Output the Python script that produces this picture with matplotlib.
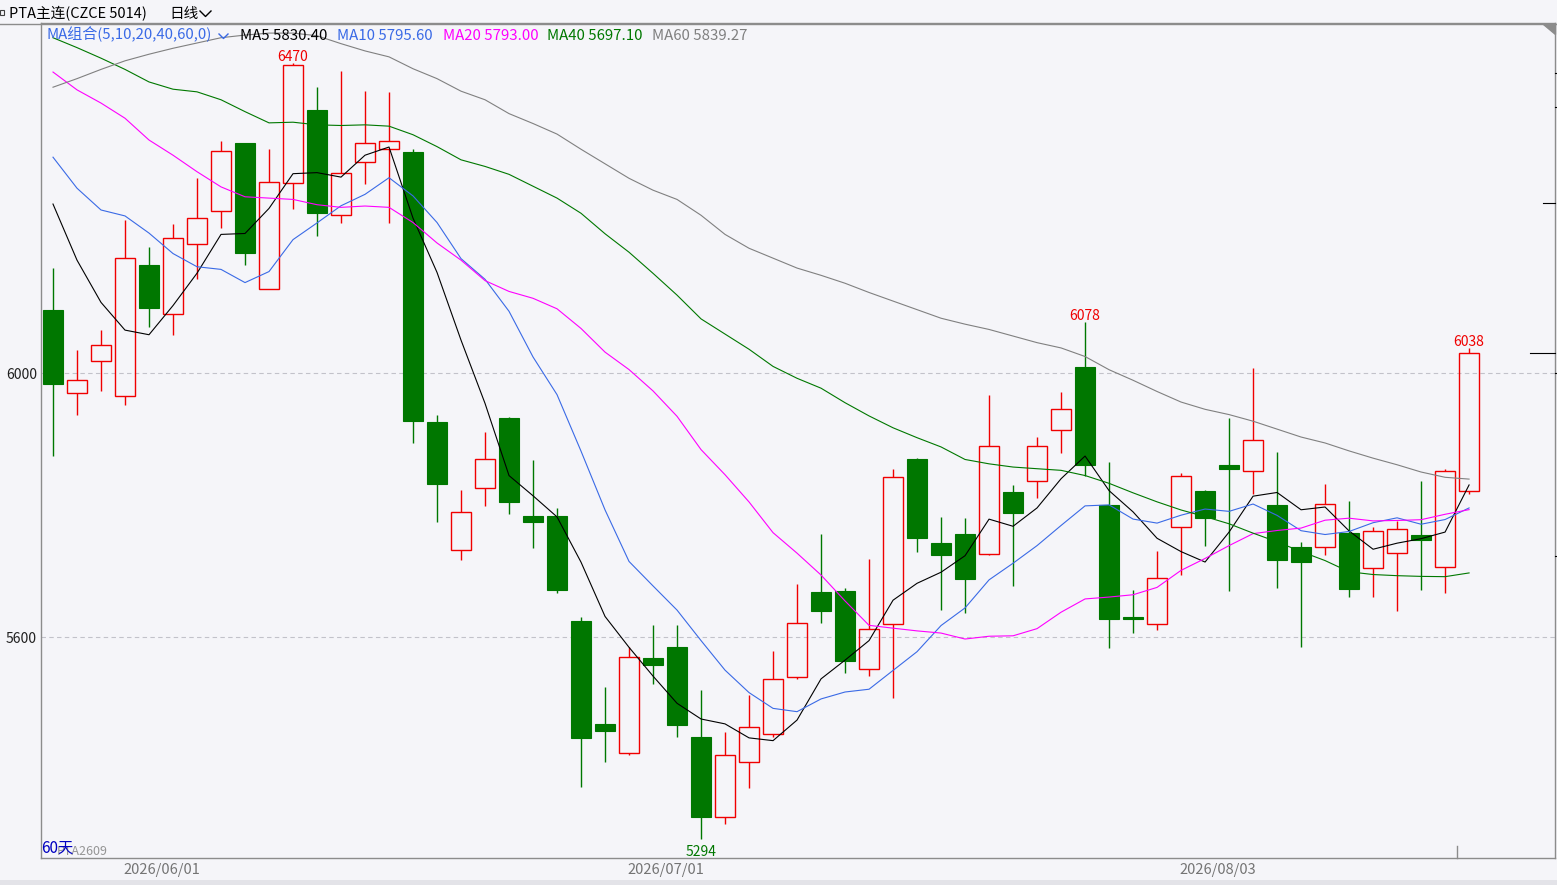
import numpy as np
import matplotlib.pyplot as plt
from matplotlib.lines import Line2D
from matplotlib.patches import Polygon, Rectangle

plt.rcParams['font.family'] = ['Noto Sans CJK SC', 'DejaVu Sans']

# Daily bars, PTA main contract (60 days)
opens = [6095, 5969, 6018, 5965, 6164, 6089, 6196, 6246, 6348, 6128,
         6288, 6399, 6239, 6319, 6340, 6335, 5926, 5732, 5826, 5932,
         5784, 5783, 5624, 5468, 5425, 5568, 5585, 5448, 5328, 5410,
         5453, 5540, 5668, 5670, 5552, 5619, 5870, 5742, 5756, 5726,
         5820, 5837, 5913, 6009, 5800, 5631, 5619, 5766, 5821, 5861,
         5851, 5800, 5736, 5737, 5758, 5705, 5728, 5754, 5706, 5821]
highs = [6159, 6035, 6065, 6232, 6191, 6226, 6295, 6352, 6349, 6340,
         6470, 6434, 6458, 6427, 6426, 6339, 5936, 5822, 5910, 5934,
         5868, 5795, 5630, 5524, 5585, 5618, 5618, 5520, 5456, 5512,
         5579, 5680, 5756, 5675, 5718, 5855, 5871, 5782, 5780, 5966,
         5830, 5903, 5971, 6078, 5865, 5672, 5730, 5848, 5822, 5932,
         6007, 5880, 5744, 5832, 5806, 5766, 5776, 5836, 5854, 6038]
lows = [5875, 5937, 5973, 5952, 6069, 6058, 6143, 6219, 6164, 6128,
        6249, 6208, 6227, 6287, 6228, 5894, 5775, 5716, 5798, 5786,
        5735, 5667, 5373, 5410, 5422, 5529, 5449, 5294, 5316, 5371,
        5449, 5536, 5622, 5546, 5541, 5508, 5729, 5641, 5636, 5725,
        5678, 5810, 5879, 5844, 5584, 5606, 5611, 5694, 5738, 5669,
        5817, 5675, 5585, 5725, 5660, 5660, 5640, 5672, 5667, 5816]
closes = [5983, 5990, 6043, 6175, 6099, 6204, 6235, 6337, 6182, 6289,
          6467, 6243, 6303, 6348, 6351, 5928, 5832, 5790, 5869, 5804,
          5775, 5672, 5447, 5458, 5570, 5557, 5466, 5328, 5421, 5464,
          5536, 5622, 5640, 5563, 5612, 5842, 5750, 5724, 5688, 5889,
          5788, 5889, 5945, 5860, 5627, 5627, 5689, 5844, 5781, 5854,
          5899, 5717, 5713, 5802, 5673, 5760, 5763, 5747, 5852, 6030]

# moving-average values before the window is full
ma5_head = [6256, 6171, 6107, 6065]
ma10_head = [6327, 6280, 6247, 6238, 6212, 6181, 6161, 6157, 6137]
ma20_head = [6456, 6429, 6409, 6386, 6353, 6330, 6305, 6282, 6267, 6265,
             6263, 6255, 6251, 6253, 6251, 6228, 6197, 6171, 6140]
ma40_head = [6508, 6493, 6477, 6460, 6441, 6430, 6426, 6414, 6396, 6379,
             6380, 6376, 6375, 6376, 6374, 6361, 6343, 6323, 6313, 6301,
             6283, 6265, 6242, 6211, 6183, 6151, 6118, 6082, 6059, 6036,
             6010, 5992, 5977, 5955, 5935, 5917, 5902, 5888, 5869]
ma60_head = [6433, 6446, 6460, 6473, 6483, 6492, 6500, 6508, 6512, 6515,
             6515, 6511, 6499, 6488, 6479, 6461, 6446, 6427, 6414, 6393,
             6378, 6362, 6339, 6317, 6295, 6277, 6263, 6239, 6210, 6189,
             6174, 6159, 6148, 6136, 6122, 6109, 6096, 6083, 6074, 6066,
             6056, 6046, 6038, 6025, 6005, 5989, 5972, 5956, 5945, 5937,
             5927, 5915, 5903, 5894, 5882, 5871, 5861, 5850, 5842]

date_labels = ['2026/06/01', '2026/07/01', '2026/08/03']
date_index = [3, 24, 47]
y_ticks = [5600, 6000]
marked_highs = [10, 43, 59]
marked_lows = [27]


def moving_average(vals, n, head):
    out = list(head)
    for i in range(n - 1, len(vals)):
        out.append(np.mean(vals[i - n + 1:i + 1]))
    return np.array(out)


o = np.array(opens, dtype=float)
h = np.array(highs, dtype=float)
l = np.array(lows, dtype=float)
c = np.array(closes, dtype=float)
x = np.arange(len(c))

ma_defs = [(5, ma5_head, 'black'), (10, ma10_head, '#3a6ae6'),
           (20, ma20_head, '#ff00ff'), (40, ma40_head, '#007800'),
           (60, ma60_head, '#808080')]

W, H = 1557, 885
bg = '#f5f5f9'
grey = '#8c8c8c'
red = '#f00000'
green = '#007700'


def fx(px):
    return px / W


def fy(py):
    return 1 - py / H


fig = plt.figure(figsize=(W / 100, H / 100), dpi=100, facecolor=bg)
ax = fig.add_axes([fx(41), fy(858), (1555 - 41) / W, (858 - 23) / H])
ax.set_facecolor(bg)
ax.set_xlim(-0.5, 62.58)
ax.set_ylim(5265.2, 6530.3)

for s in ax.spines.values():
    s.set_color(grey)
    s.set_linewidth(1)

# dashed price levels
for yv in y_ticks:
    ax.axhline(yv, color='#c2c2ca', lw=0.8, ls=(0, (4, 3)), zorder=1)

# candles
up = c >= o
dn = ~up
body_w = 0.8
ax.vlines(x[dn], l[dn], h[dn], color=green, lw=1.0, zorder=2)
ax.bar(x[dn], (o - c)[dn], bottom=c[dn], width=body_w, color=green,
       edgecolor=green, lw=0.8, zorder=3)
ax.vlines(x[up], c[up], h[up], color=red, lw=1.0, zorder=2)
ax.vlines(x[up], l[up], o[up], color=red, lw=1.0, zorder=2)
ax.bar(x[up], (c - o)[up], bottom=o[up], width=body_w, facecolor='none',
       edgecolor=red, lw=1.0, zorder=3)

# moving averages
ma_last = {}
for n, head, col in ma_defs:
    ma = moving_average(c, n, head)
    ma_last[n] = ma[-1]
    ax.plot(x, ma, color=col, lw=0.8, zorder=4)

# high / low marks
for i in marked_highs:
    ax.annotate('%d' % highs[i], xy=(i, highs[i]), xytext=(0, 2),
                textcoords='offset pixels', ha='center', va='baseline',
                color=red, fontsize=10)
for i in marked_lows:
    ax.annotate('%d' % lows[i], xy=(i, lows[i]), xytext=(0, -17),
                textcoords='offset pixels', ha='center', va='baseline',
                color=green, fontsize=10)

# axes ticks
ax.set_yticks(y_ticks)
ax.set_yticklabels([str(v) for v in y_ticks], fontsize=10, color='#202020')
ax.tick_params(axis='y', length=0, pad=3)
ax.set_xticks([])
for idx, lab in zip(date_index, date_labels):
    ax.text(idx - 0.07, -12 / 835, lab, transform=ax.get_xaxis_transform(),
            ha='left', va='center', fontsize=10.5, color='#747474')

# header
fig.text(fx(9), fy(18), 'PTA主连(CZCE 5014)', fontsize=10.5, color='black',
         va='baseline')
fig.text(fx(169), fy(18), '日线', fontsize=10.5, color='black', va='baseline')
fig.add_artist(Line2D([fx(200), fx(205.5), fx(211)], [fy(11), fy(16.5), fy(11)],
                      color='black', lw=1))
fig.add_artist(Rectangle((fx(0), fy(15)), 4 / W, 5 / H, fill=False,
                         edgecolor='#404040', lw=0.8))
fig.add_artist(Line2D([0, 1], [fy(23.5), fy(23.5)], color=grey, lw=1))

# MA legend
leg = [(47, 'MA组合(5,10,20,40,60,0)', '#3a6ae6'),
       (240, 'MA5 %.2f' % ma_last[5], 'black'),
       (337, 'MA10 %.2f' % ma_last[10], '#3a6ae6'),
       (443, 'MA20 %.2f' % ma_last[20], '#ff00ff'),
       (547, 'MA40 %.2f' % ma_last[40], '#007800'),
       (652, 'MA60 %.2f' % ma_last[60], '#808080')]
for px, txt, col in leg:
    fig.text(fx(px), fy(39.5), txt, fontsize=10.8, color=col, va='baseline')
fig.add_artist(Line2D([fx(219), fx(223.5), fx(228)], [fy(34), fy(38.5), fy(34)],
                      color='#3a6ae6', lw=1))

# bottom-left labels
fig.text(fx(57), fy(855), 'PTA2609', fontsize=9, color='#959595', va='baseline')
fig.text(fx(41), fy(853), '60天', fontsize=11, color='#0000c0', va='baseline')

# right-edge decorations
fig.add_artist(Polygon([(fx(1543), fy(24)), (fx(1555), fy(24)), (fx(1555), fy(34))],
                       closed=True, color=grey))
for py, x0, x1 in [(203, 1543, 1555), (353, 1530, 1555), (73, 1555, 1557),
                   (107, 1555, 1557), (373, 1555, 1557), (556, 1555, 1557)]:
    fig.add_artist(Line2D([fx(x0), fx(x1)], [fy(py), fy(py)], color='black', lw=0.8))
fig.add_artist(Line2D([fx(1457), fx(1457)], [fy(846), fy(858)], color=grey, lw=1))

# bottom strip
fig.add_artist(Rectangle((0, 0), 1, 5 / H, color='#e3e3e8', lw=0))

fig.savefig('out.png', dpi=100, facecolor=bg)
